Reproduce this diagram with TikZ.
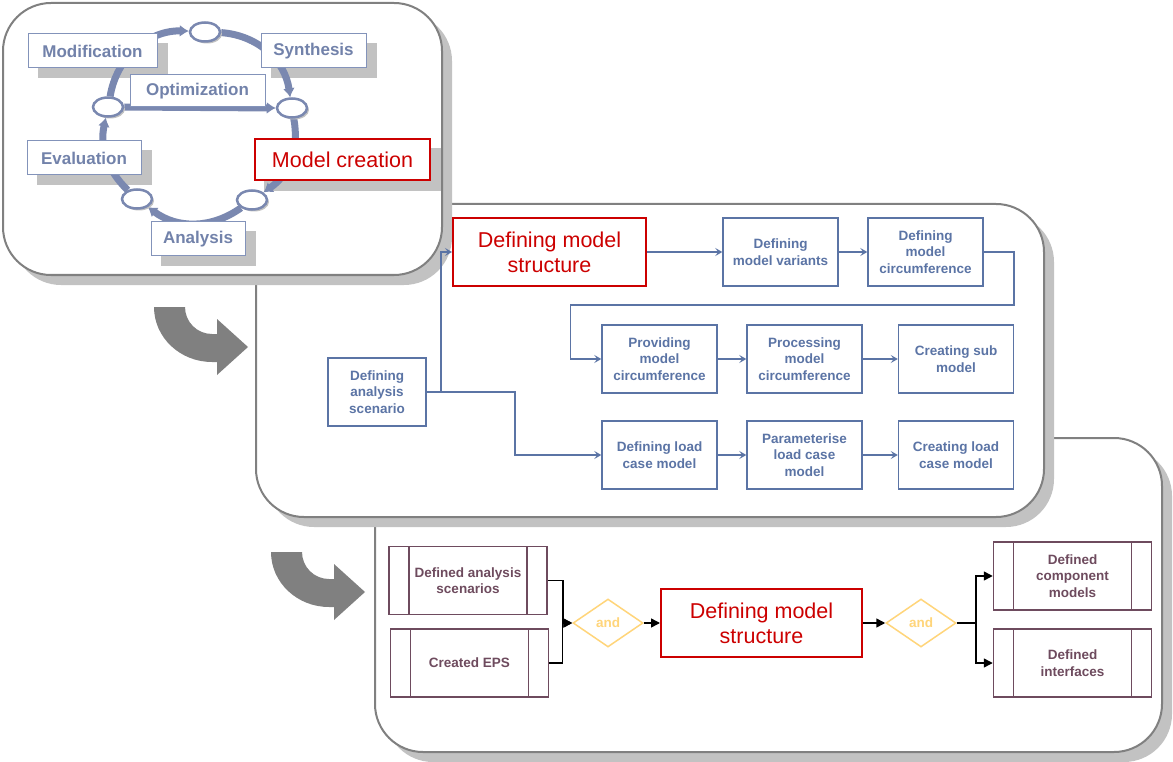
\documentclass[tikz,border=0pt]{standalone}
\usepackage{fontspec}
\setmainfont{Liberation Sans}
\usepackage{xcolor}
\usepackage{tikz}
\usetikzlibrary{arrows.meta}
\usetikzlibrary{shapes.geometric}
\usetikzlibrary{shadows}

\definecolor{panelc}{HTML}{808080}
\definecolor{shadowc}{HTML}{C2C2C2}
\definecolor{ringc}{HTML}{7A88B0}
\definecolor{labelc}{HTML}{7282AA}
\definecolor{labelbd}{HTML}{8393BA}
\definecolor{flowc}{HTML}{5B74A5}
\definecolor{redc}{HTML}{CC0000}
\definecolor{docc}{HTML}{6E4B5E}
\definecolor{andc}{HTML}{FFD57A}

\pgfdeclarelayer{back}
\pgfdeclarelayer{mid}
\pgfsetlayers{back,mid,main}

\begin{document}
\begin{tikzpicture}[x=1pt,y=-1pt,
	panel/.style={draw=panelc, line width=2pt, fill=white, rounded corners=48pt, drop shadow={shadow xshift=10pt, shadow yshift=-10pt, opacity=1, fill=shadowc}},
	phase/.style={draw=labelbd, line width=1pt, fill=white, text=labelc, font=\bfseries\fontsize{17}{20}\selectfont, inner sep=0pt},
	knot/.style={ellipse, draw=ringc, line width=2.5pt, fill=white, minimum width=30pt, minimum height=19pt, inner sep=0pt, drop shadow={shadow xshift=2pt, shadow yshift=-2pt, opacity=1, fill=shadowc}},
	ring/.style={draw=ringc, line width=7pt, -{Latex[length=9pt,width=12pt]}},
	task/.style={draw=flowc, line width=1.5pt, fill=white, text=flowc, font=\bfseries\fontsize{13.5}{16.5}\selectfont, align=center, minimum width=115pt, minimum height=68pt, inner sep=0pt},
	key/.style={draw=redc, line width=2pt, fill=white, text=redc, font=\fontsize{21.5}{25}\selectfont, align=center, inner sep=0pt},
	flow/.style={draw=flowc, line width=1.5pt, -{Stealth[length=7pt,width=8pt,inset=3pt]}},
	doc/.style={draw=docc, line width=1.5pt, fill=white, text=docc, font=\bfseries\fontsize{13.5}{16.5}\selectfont, align=center, minimum width=158pt, minimum height=68pt, inner sep=0pt,
		path picture={\draw[docc, line width=1.5pt] ([xshift=20pt]path picture bounding box.north west) -- ([xshift=20pt]path picture bounding box.south west)
			([xshift=-20pt]path picture bounding box.north east) -- ([xshift=-20pt]path picture bounding box.south east);}},
	gate/.style={diamond, aspect=1.45, draw=andc, line width=1.5pt, fill=white, text=andc, font=\bfseries\fontsize{13.5}{16}\selectfont, minimum width=70pt, minimum height=48pt, inner sep=0pt},
	link/.style={draw=black, line width=1.5pt, -{Triangle[length=9pt,width=9pt]}}]
			\useasboundingbox (0,0) rectangle (1173,762);

			%% panels
			\begin{pgfonlayer}{back}
			\path[panel] (375,438) rectangle (1162,752);
			\path[panel] (256,204) rectangle (1044,517);
			\path[panel] (3,3) rectangle (442,275);
			\end{pgfonlayer}

			%% development cycle
			\node[knot] (ovT) at (205,32) {};
			\node[knot] (ovR) at (292,108) {};
			\node[knot] (ovBR) at (252,200) {};
			\node[knot] (ovBL) at (137,199) {};
			\node[knot] (ovL) at (108,107) {};

			\node[phase, minimum width=129pt, minimum height=34pt] (modi) at (92.5,51) {Modification};
			\node[phase, minimum width=105pt, minimum height=34pt] (synth) at (313.5,51) {Synthesis};
			\node[phase, minimum width=135pt, minimum height=32pt] (optim) at (197.5,91) {Optimization};
			\node[phase, minimum width=114pt, minimum height=34pt] (evalu) at (84,158) {Evaluation};
			\node[phase, minimum width=94pt, minimum height=34pt] (anal) at (198,239) {Analysis};
			\node[phase, draw=redc, line width=2pt, text=redc, font=\fontsize{21.5}{24}\selectfont, minimum width=175pt, minimum height=41pt] (mcrea) at (342.5,159.5) {Model creation};

			\begin{pgfonlayer}{back}
			\foreach \n in {modi,synth,evalu,anal,mcrea}
				\fill[shadowc] ([shift={(10,10)}]\n.north west) rectangle ([shift={(10,10)}]\n.south east);
			\end{pgfonlayer}

			\begin{pgfonlayer}{mid}
			\draw[ring] (ovT) to[bend left=39] (ovR);
			\draw[ring] (ovR) to[bend left=33] (ovBR);
			\draw[ring] (ovBR) to[bend left=36] (ovBL);
			\draw[ring] (ovBL) to[bend left=29] (ovL);
			\draw[ring] (ovL) to[bend left=41] (ovT);
			\draw[ring] (ovL.east) -- (ovR.west);
			\end{pgfonlayer}

			%% model creation steps
			\node[key, minimum width=193pt, minimum height=68pt] (dms) at (549.5,252) {Defining model\\structure};
			\node[task] (dmv) at (780.5,252) {Defining\\model variants};
			\node[task] (dmc) at (925.5,252) {Defining\\model\\circumference};
			\node[task] (pmc) at (659.5,359) {Providing\\model\\circumference};
			\node[task] (prc) at (804.5,359) {Processing\\model\\circumference};
			\node[task] (csm) at (956,359) {Creating sub\\model};
			\node[task, minimum width=98pt] (das) at (377,392) {Defining\\analysis\\scenario};
			\node[task] (dlc) at (659.5,455) {Defining load\\case model};
			\node[task] (plc) at (804.5,455) {Parameterise\\load case\\model};
			\node[task] (clc) at (956,455) {Creating load\\case model};

			%% lines
			\draw[flow] (dms) -- (dmv);
			\draw[flow] (dmv) -- (dmc);
			\draw[flow] (dmc.east) -- ++(30,0) -- ++(0,53) -| ([xshift=-31pt]pmc.west) -- (pmc.west);
			\draw[flow] (pmc) -- (prc);
			\draw[flow] (prc) -- (csm);
			\draw[flow] (das.east) -- ++(14,0) |- (dms.west);
			\draw[flow] (das.east) -- ++(88,0) |- (dlc.west);
			\draw[flow] (dlc) -- (plc);
			\draw[flow] (plc) -- (clc);

			%% inputs and outputs
			\node[doc] (dan) at (468,580.5) {Defined analysis\\scenarios};
			\node[doc] (eps) at (469.5,663) {Created EPS};
			\node[gate] (and1) at (608,623) {and};
			\node[key, minimum width=201pt, minimum height=68pt] (dms2) at (761.5,623) {Defining model\\structure};
			\node[gate] (and2) at (921,623) {and};
			\node[doc] (dcm) at (1072.5,576) {Defined\\component\\models};
			\node[doc] (dif) at (1072.5,663) {Defined\\interfaces};

			%% lines
			\draw[link] (dan.east) -- ++(15,0) |- (and1.west);
			\draw[link] (eps.east) -- ++(13,0) |- (and1.west);
			\draw[link] (and1) -- (dms2);
			\draw[link] (dms2) -- (and2);
			\draw[link] (and2.east) -- ++(19,0) |- (dcm.west);
			\draw[link] (and2.east) -- ++(19,0) |- (dif.west);

			%% turn arrows
			\foreach \dx/\dy in {0/0,117/245}{
				\fill[panelc, shift={(\dx,\dy)}] (154,307) arc[start angle=180, end angle=90, x radius=58, y radius=55] -- (217,362) -- (217,375) -- (248,347) -- (217,319) -- (217,334) -- (212,334) arc[start angle=90, end angle=180, radius=27] -- cycle;
			}
		\end{tikzpicture}
\end{document}
